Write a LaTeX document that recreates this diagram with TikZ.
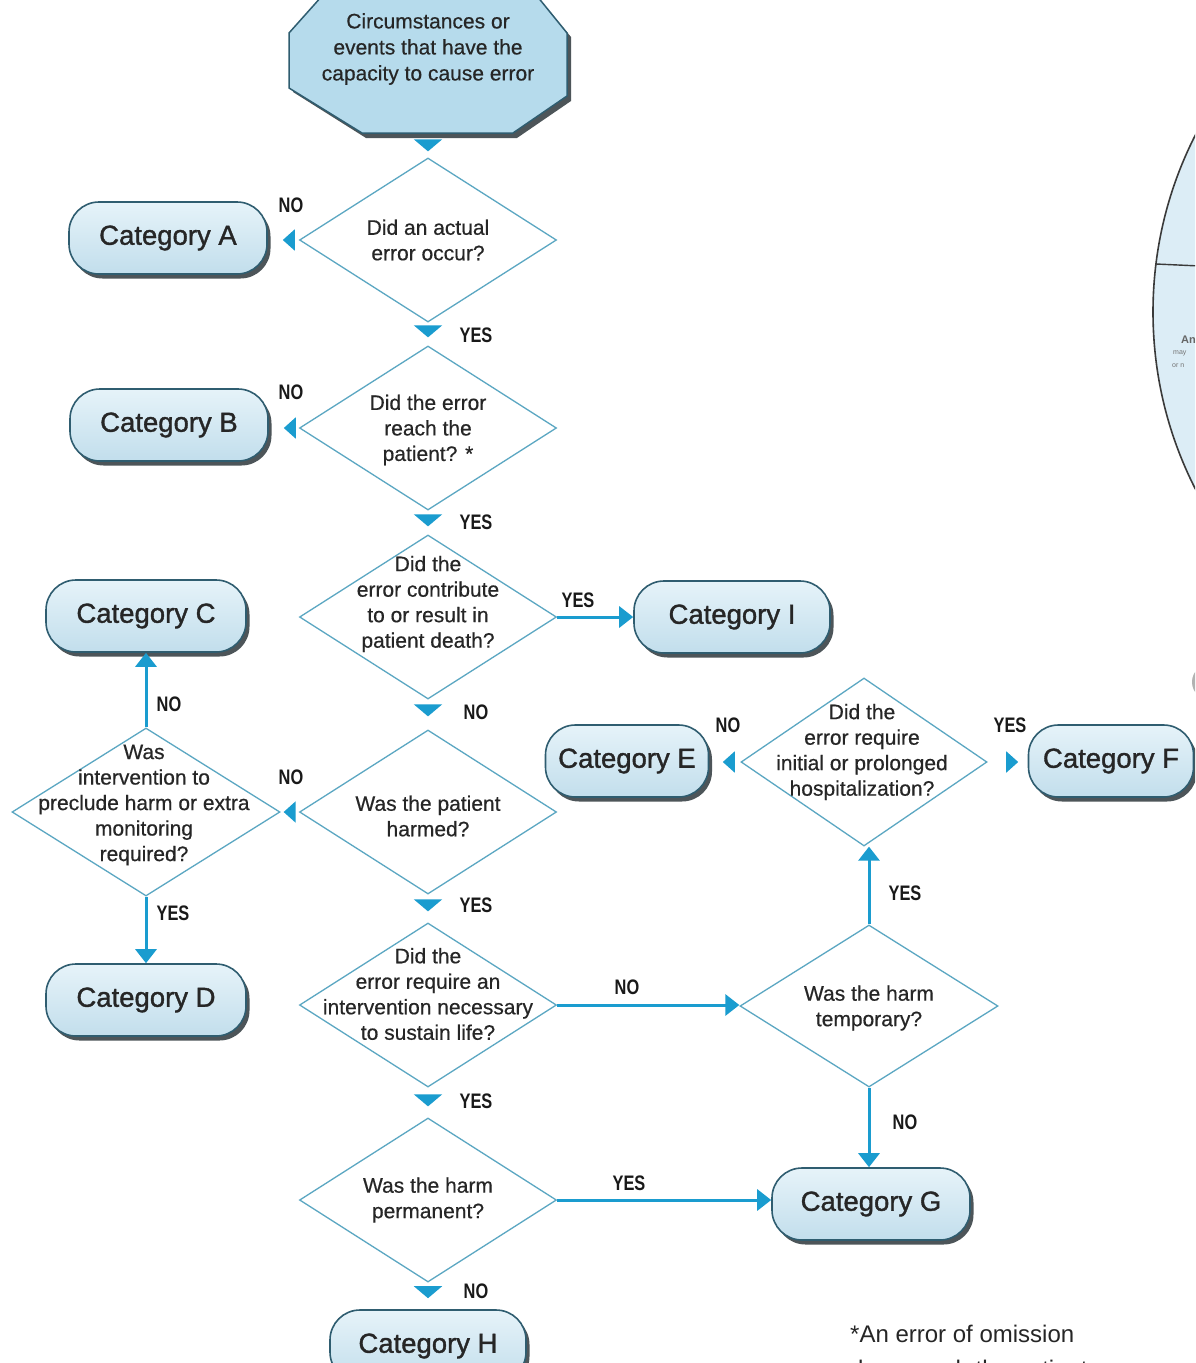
\documentclass[tikz,border=0pt]{standalone}
\usepackage{fontspec}
\setmainfont{Liberation Sans}
\newfontfamily\lblfont[FakeStretch=0.78]{Liberation Sans}
\newfontfamily\catfont[FakeBold=1.3]{Liberation Sans}
\newfontfamily\dfont[FakeBold=0.5]{Liberation Sans}
\usetikzlibrary{shapes.geometric,arrows.meta,shadows,calc}
\definecolor{boxedge}{HTML}{2F5D70}
\definecolor{boxtop}{HTML}{E6F3F9}
\definecolor{boxbot}{HTML}{C2DEEC}
\definecolor{octfill}{HTML}{B6DBEC}
\definecolor{dedge}{HTML}{5BA7C2}
\definecolor{arrowc}{HTML}{1A9CCF}
\definecolor{txt}{HTML}{262626}
\definecolor{shadowc}{HTML}{4D5559}
\definecolor{circfill}{HTML}{DCEDF6}
\definecolor{circedge}{HTML}{3A3A3A}
\tikzset{
  catbox/.style={rectangle, rounded corners=30pt, draw=boxedge, line width=1.6pt,
    top color=boxtop, bottom color=boxbot, minimum height=72pt, inner sep=0pt,
    font=\catfont\fontsize{27.5}{30}\selectfont, text=txt,
    drop shadow={shadow xshift=3.5pt, shadow yshift=-4.5pt, fill=shadowc, opacity=1}},
  diam/.style={diamond, draw=dedge, line width=1.3pt, fill=white, inner sep=0pt},
  dtext/.style={align=center, font=\dfont\fontsize{21}{25.5}\selectfont, text=txt, inner sep=0pt},
  lbl/.style={font=\lblfont\bfseries\fontsize{21}{24}\selectfont, text=black!90, inner sep=0pt},
  flow/.style={draw=arrowc, line width=3pt, -{Triangle[length=14pt,width=21pt]}},
  tridown/.style={draw=arrowc, line width=2pt, -{Triangle[length=12pt,width=28pt]}},
  trileft/.style={draw=arrowc, line width=2pt, -{Triangle[length=12pt,width=21pt]}},
}
\begin{document}
\begin{tikzpicture}[x=1pt,y=-1pt]
\useasboundingbox (0,0) rectangle (1195,1363);
\clip (0,0) rectangle (1195,1363);
\fill[white] (0,0) rectangle (1195,1363);

% partial circle at the right edge
\draw[fill=circfill, draw=circedge, line width=1.6pt] (1543,312) circle[radius=390];
\draw[circedge, line width=1.4pt] (1156,264) -- (1200,266);
\node[anchor=west, font=\bfseries\fontsize{11}{13}\selectfont, text=black!60, inner sep=0pt] (frag1) at (1181,340) {An};
\node[anchor=west, font=\fontsize{7}{8}\selectfont, text=black!55, inner sep=0pt] (frag2) at (1173,353) {may};
\node[anchor=west, font=\fontsize{7}{8}\selectfont, text=black!55, inner sep=0pt] (frag3) at (1172,366) {or n};
\fill[black!30] (1210,682) circle[radius=18];

% octagon start
\fill[shadowc] ($(322,-4)+(4,5)$) -- ++(215,0) -- (571,37) -- (571,101) -- (517,138) -- (366,138) -- (293,92) -- (293,37) -- cycle;
\draw[fill=octfill, draw=boxedge, line width=1.5pt] (322,-4) -- (537,-4) -- (567,33) -- (567,96) -- (513,133) -- (362,133) -- (289,88) -- (289,33) -- cycle;
\node[align=center, font=\dfont\fontsize{21}{26}\selectfont, text=txt, inner sep=0pt] (start) at (428,49)
  {Circumstances or\\events that have the\\capacity to cause error};
\coordinate (octb) at (428,133);

% diamonds
\node[diam, minimum width=257pt, minimum height=164pt] (d1) at (428,240) {};
\node[dtext] (d1t) at (428,240) {Did an actual\\error occur?};
\node[diam, minimum width=257pt, minimum height=164pt] (d2) at (428,428) {};
\node[dtext] (d2t) at (428,430) {Did the error\\reach the\\patient? *};
\node[diam, minimum width=257pt, minimum height=164pt] (d3) at (428,617) {};
\node[dtext] (d3t) at (428,604) {Did the\\error contribute\\to or result in\\patient death?};
\node[diam, minimum width=257pt, minimum height=164pt] (d4) at (428,812) {};
\node[dtext] (d4t) at (428,816) {Was the patient\\harmed?};
\node[diam, minimum width=257pt, minimum height=164pt] (d5) at (428,1005) {};
\node[dtext] (d5t) at (428,994) {Did the\\error require an\\intervention necessary\\to sustain life?};
\node[diam, minimum width=257pt, minimum height=164pt] (d6) at (428,1200) {};
\node[dtext] (d6t) at (428,1200) {Was the harm\\permanent?};
\node[diam, minimum width=268pt, minimum height=168pt] (d7) at (146,812) {};
\node[dtext] (d7t) at (144,805) {Was\\intervention to\\preclude harm or extra\\monitoring\\required?};
\node[diam, minimum width=258pt, minimum height=162pt] (d8) at (869,1006) {};
\node[dtext] (d8t) at (869,1008) {Was the harm\\temporary?};
\node[diam, minimum width=246pt, minimum height=168pt] (d9) at (864,762) {};
\node[dtext] (d9t) at (862,752) {Did the\\error require\\initial or prolonged\\hospitalization?};

% categories
\node[catbox, minimum width=198pt] (catA) at (168,238) {Category A};
\node[catbox, minimum width=198pt] (catB) at (169,425) {Category B};
\node[catbox, minimum width=200pt] (catC) at (146,616) {Category C};
\node[catbox, minimum width=200pt] (catD) at (146,1000) {Category D};
\node[catbox, minimum width=163pt] (catE) at (627,761) {Category E};
\node[catbox, minimum width=165pt] (catF) at (1111,761) {Category F};
\node[catbox, minimum width=196pt] (catI) at (732,617) {Category I};
\node[catbox, minimum width=198pt] (catG) at (871,1204) {Category G};
\node[catbox, minimum width=196pt] (catH) at (428,1346) {Category H};

% stacked triangles
\draw[tridown, shorten <=7pt, shorten >=6pt] (octb) -- (d1.north);
\draw[tridown, shorten <=3pt, shorten >=8pt] (d1.south) -- (d2.north);
\draw[tridown, shorten <=4pt, shorten >=8pt] (d2.south) -- (d3.north);
\draw[tridown, shorten <=6pt, shorten >=13pt] (d3.south) -- (d4.north);
\draw[tridown, shorten <=6pt, shorten >=11pt] (d4.south) -- (d5.north);
\draw[tridown, shorten <=8pt, shorten >=11pt] (d5.south) -- (d6.north);
\draw[tridown, shorten <=5pt, shorten >=11pt] (d6.south) -- (catH.north);

% side triangles
\draw[trileft, shorten <=4.5pt, shorten >=15pt] (d1.west) -- (d1.west -| catA.east);
\draw[trileft, shorten <=4.5pt, shorten >=15pt] (d2.west) -- (d2.west -| catB.east);
\draw[trileft, shorten <=4.5pt, shorten >=3pt] (d4.west) -- (d7.east);
\draw[trileft, shorten <=8pt, shorten >=13.5pt] (d9.west) -- (d9.west -| catE.east);
\draw[trileft, shorten <=20pt, shorten >=9.5pt] (d9.east) -- (d9.east -| catF.west);

% flow arrows
\draw[flow] (d3.east) -- (d3.east -| catI.west);
\draw[flow] (d7.north) -- (catC.south);
\draw[flow] (d7.south) -- (catD.north);
\draw[flow] (d5.east) -- (d5.east -| d8.west);
\draw[flow] (d8.north) -- (d8.north |- d9.south);
\draw[flow] (d8.south) -- (d8.south |- catG.north);
\draw[flow] (d6.east) -- (d6.east -| catG.west);

% labels
\node[lbl] (l1) at (291,205) {NO};
\node[lbl] (l2) at (476,335) {YES};
\node[lbl] (l3) at (291,392) {NO};
\node[lbl] (l4) at (476,522) {YES};
\node[lbl] (l5) at (578,600) {YES};
\node[lbl] (l6) at (476,712) {NO};
\node[lbl] (l7) at (169,704) {NO};
\node[lbl] (l8) at (291,777) {NO};
\node[lbl] (l9) at (476,905) {YES};
\node[lbl] (l10) at (173,913) {YES};
\node[lbl] (l11) at (627,987) {NO};
\node[lbl] (l12) at (476,1101) {YES};
\node[lbl] (l13) at (905,893) {YES};
\node[lbl] (l14) at (905,1122) {NO};
\node[lbl] (l15) at (629,1183) {YES};
\node[lbl] (l16) at (476,1291) {NO};
\node[lbl] (l17) at (728,725) {NO};
\node[lbl] (l18) at (1010,725) {YES};

% footnote
\node[anchor=base west, font=\fontsize{24}{30}\selectfont, text=txt, inner sep=0pt] (fn1) at (850,1342) {*An error of omission};
\node[anchor=base west, font=\fontsize{24}{30}\selectfont, text=txt, inner sep=0pt] (fn2) at (850,1377) {does reach the patient.};
\end{tikzpicture}
\end{document}
